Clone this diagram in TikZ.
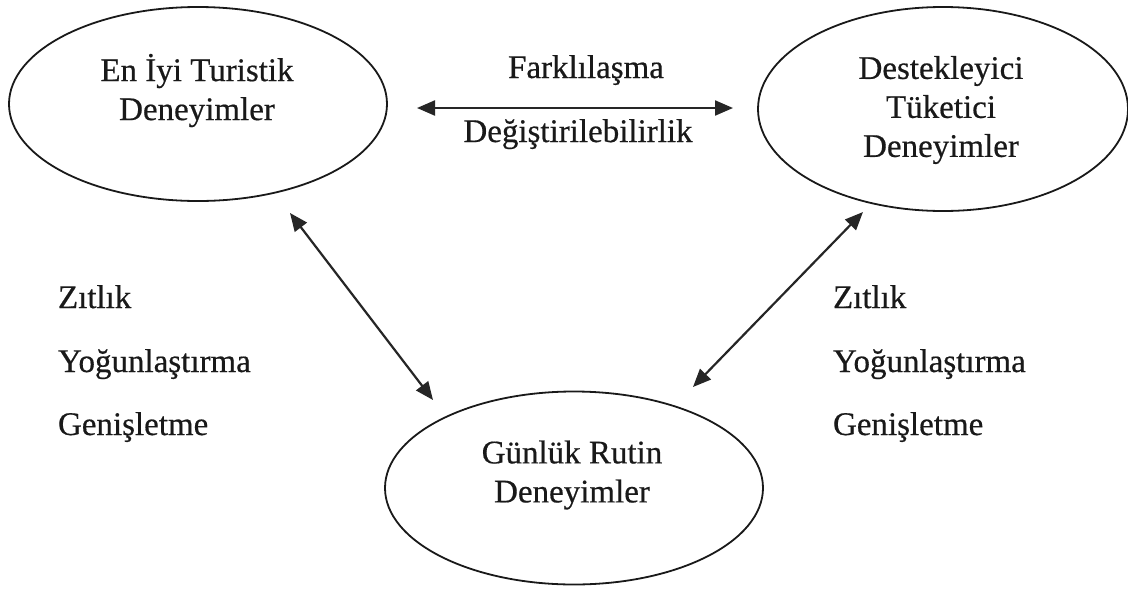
\documentclass[tikz,border=0pt]{standalone}
\usepackage{fontspec}
\setmainfont{Liberation Serif}[FakeBold=0.5]
\usetikzlibrary{shapes.geometric,arrows.meta}
\begin{document}
\begin{tikzpicture}[x=1pt,y=-1pt,
  every node/.style={inner sep=0pt,outer sep=0pt,
    font=\fontsize{33pt}{39pt}\selectfont,text=black!90},
  oval/.style={draw=black!90,ellipse,line width=1.8pt},
  lbl/.style={align=center},
  side/.style={anchor=base west},
  link/.style={line width=2.2pt,draw=black!85,
    {Triangle[length=18pt,width=15pt]}-{Triangle[length=18pt,width=15pt]}}]
\useasboundingbox (0,0) rectangle (1128,590);

% the three experience ovals
\node[oval,minimum width=378pt,minimum height=194pt] (best) at (198,104) {};
\node[oval,minimum width=370pt,minimum height=204pt] (supp) at (943,109) {};
\node[oval,minimum width=378pt,minimum height=193pt] (daily) at (574,488) {};

% their titles
\node[lbl] (bestT) at (197,90.5) {En İyi Turistik\\Deneyimler};
\node[lbl] (suppT) at (941,110) {Destekleyici\\Tüketici\\Deneyimler};
\node[lbl] (dailyT) at (572,475) {Günlük Rutin\\Deneyimler};

% horizontal link between the top ovals
\coordinate (h1) at (417,108);
\coordinate (h2) at (733,108);
\draw[link] (h1) -- (h2);
\node[anchor=base] (diff) at (586,78) {Farklılaşma};
\node[anchor=base] (swap) at (578,142) {Değiştirilebilirlik};

% diagonal links to the daily-routine oval
\coordinate (l1) at (290,213);
\coordinate (l2) at (433,400);
\draw[link] (l1) -- (l2);
\coordinate (r1) at (863,212);
\coordinate (r2) at (693,387);
\draw[link] (r2) -- (r1);

% side labels
\node[side] (zl) at (58,308) {Zıtlık};
\node[side] (yl) at (58,372) {Yoğunlaştırma};
\node[side] (gl) at (58,435) {Genişletme};
\node[side] (zr) at (833,308) {Zıtlık};
\node[side] (yr) at (833,372) {Yoğunlaştırma};
\node[side] (gr) at (833,435) {Genişletme};
\end{tikzpicture}
\end{document}
